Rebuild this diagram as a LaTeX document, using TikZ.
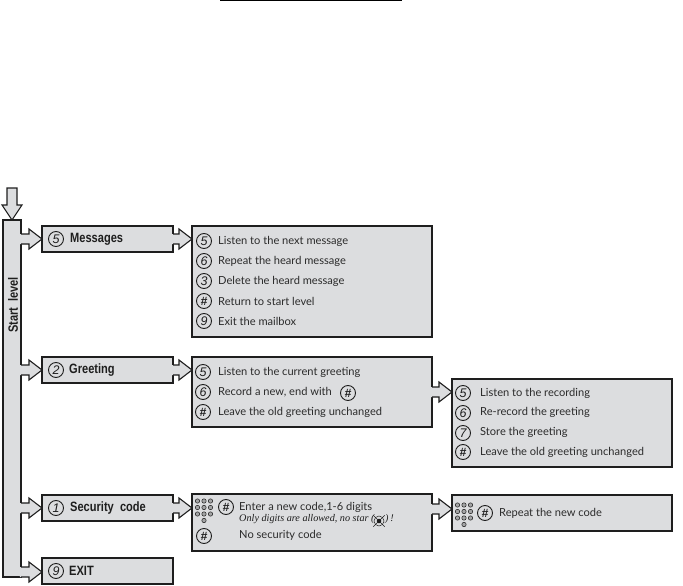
\documentclass[tikz,border=0pt]{standalone}
\usepackage{fontspec}
\setmainfont{Lato}
\newfontfamily\condb[FakeStretch=0.82]{Liberation Sans}[BoldFont={Liberation Sans Bold}]
\newfontfamily\digit{Liberation Sans}
\newfontfamily\noteit{Liberation Serif}
\definecolor{panel}{HTML}{DCDDDF}
\definecolor{ink}{HTML}{1E1E1E}
\definecolor{tx}{HTML}{2B2B2B}
\tikzset{
  panelbox/.style={draw=ink,line width=1.1pt,fill=panel,anchor=north west,inner sep=0pt,outer sep=0pt},
  headbox/.style={panelbox,minimum width=131pt,minimum height=26pt},
  keyn/.style={circle,draw=ink,line width=0.9pt,minimum size=15pt,inner sep=0pt,font=\digit\fontsize{12.5}{12}\selectfont\itshape,text=ink},
  hashn/.style={keyn,font=\digit\fontsize{12}{12}\selectfont\bfseries\itshape},
  head/.style={anchor=west,inner sep=0pt,font=\condb\fontsize{13.5}{13}\selectfont\bfseries,text=ink},
  item/.style={anchor=west,inner sep=0pt,font=\fontsize{11.1}{11}\selectfont,text=tx},
  note/.style={anchor=west,inner sep=0pt,font=\noteit\fontsize{10.2}{10}\selectfont\itshape,text=ink},
  dot/.style={circle,draw=ink,line width=0.5pt,fill=panel!70!ink,minimum size=4.4pt,inner sep=0pt},
}
\newcommand\fatarrow[2]{%
  \fill[panel] ([xshift=-1.2pt,yshift=-5pt]#1) -- ([xshift=-13pt,yshift=-5pt]#2) -- ([xshift=-13pt,yshift=-10pt]#2) -- (#2) -- ([xshift=-13pt,yshift=10pt]#2) -- ([xshift=-13pt,yshift=5pt]#2) -- ([xshift=-1.2pt,yshift=5pt]#1) -- cycle;
  \draw[ink,line width=1.1pt,line join=miter] ([yshift=5pt]#1) -- ([xshift=-13pt,yshift=5pt]#2) -- ([xshift=-13pt,yshift=10pt]#2) -- (#2) -- ([xshift=-13pt,yshift=-10pt]#2) -- ([xshift=-13pt,yshift=-5pt]#2) -- ([yshift=-5pt]#1);
}
\newcommand\keypad[3]{%
  \foreach \r in {0,1,2}{\foreach \c in {-1,0,1}{
    \node[dot] (#1r\r c\c) at (#2+\c*6.5,#3+\r*6.5) {};}}
  \node[dot] (#1zero) at (#2,#3+19.5) {};
}
\begin{document}
\begin{tikzpicture}[x=1pt,y=-1pt]
\useasboundingbox (0,0) rectangle (683,586);
\coordinate (tl) at (220,0.5); \coordinate (tr) at (402,0.5);
\draw[black,line width=1.4pt] (tl) -- (tr);

% start bar
\node[panelbox,minimum width=18pt,minimum height=357pt] (bar) at (3,220) {};
\node[head,rotate=90,anchor=center] (barlabel) at (13,305) {Start\ \ level};
% entry arrow
\coordinate (entry) at (7,188);
\coordinate (entrytip) at (12,220);
\draw[ink,line width=1.1pt,fill=panel,line join=miter] (entry) -- ++(10,0) -- ++(0,17) -- ++(5,0) -- (entrytip) -- ++(-10,-15) -- ++(5,0) -- cycle;

% heads
\node[headbox] (hm) at (42,226) {};
\node[headbox] (hg) at (42,357) {};
\node[headbox] (hs) at (42,495) {};
\node[headbox,line width=1.5pt] (he) at (42,558) {};
% panels
\node[panelbox,minimum width=240pt,minimum height=111pt] (pm) at (192,226) {};
\node[panelbox,minimum width=240pt,minimum height=70pt] (pg) at (192,357) {};
\node[panelbox,minimum width=240pt,minimum height=57pt] (ps) at (192,494) {};
\node[panelbox,minimum width=220pt,minimum height=88pt] (pr) at (452,379) {};
\node[panelbox,minimum width=220pt,minimum height=36pt] (pc) at (452,495) {};

% connectors
\coordinate (bm) at (bar.east |- hm.west); \coordinate (bg) at (bar.east |- hg.west);
\coordinate (bs) at (bar.east |- hs.west); \coordinate (be) at (21,572);
\coordinate (te) at (he.west |- be);
\fatarrow{bm}{hm.west}
\fatarrow{bg}{hg.west}
\fatarrow{bs}{hs.west}
\fatarrow{be}{te}
\coordinate (tm) at (pm.west |- hm.east); \coordinate (tg) at (pg.west |- hg.east); \coordinate (ts) at (ps.west |- hs.east);
\fatarrow{hm.east}{tm}
\fatarrow{hg.east}{tg}
\fatarrow{hs.east}{ts}
\coordinate (tr2) at (pr.west |- pg.east);
\fatarrow{pg.east}{tr2}
\coordinate (tc) at (452,509); \coordinate (sc) at (ps.east |- tc);
\fatarrow{sc}{tc}

% head labels
\node[keyn] (k1) at (56,239) {5}; \node[head] (t1) at (70,239) {Messages};
\node[keyn] (k2) at (56,370) {2}; \node[head] (t2) at (69,370) {Greeting};
\node[keyn] (k3) at (56,508) {1}; \node[head] (t3) at (70,508) {Security\ \ code};
\node[keyn] (k4) at (56,571) {9}; \node[head] (t4) at (69,571) {EXIT};

% messages list
\node[keyn] (a1) at (204,241) {5}; \node[item] (at1) at (218,241) {Listen to the next message};
\node[keyn] (a2) at (204,261) {6}; \node[item] (at2) at (218,261) {Repeat the heard message};
\node[keyn] (a3) at (204,281) {3}; \node[item] (at3) at (218,281) {Delete the heard message};
\node[hashn] (a4) at (204,301) {\#}; \node[item] (at4) at (218,301) {Return to start level};
\node[keyn] (a5) at (204,321) {9}; \node[item] (at5) at (218,321) {Exit the mailbox};

% greeting list
\node[keyn] (b1) at (203,372) {5}; \node[item] (bt1) at (218,372) {Listen to the current greeting};
\node[keyn] (b2) at (203,392) {6}; \node[item] (bt2) at (218,392) {Record a new, end with};
\node[hashn] (b2h) at (348,393) {\#};
\node[hashn] (b3) at (203,412) {\#}; \node[item] (bt3) at (218,412) {Leave the old greeting unchanged};

% recording list
\node[keyn] (c1) at (463,393) {5}; \node[item] (ct1) at (480,393) {Listen to the recording};
\node[keyn] (c2) at (463,413) {6}; \node[item] (ct2) at (480,412) {Re-record the greeting};
\node[keyn] (c3) at (463,433) {7}; \node[item] (ct3) at (480,432) {Store the greeting};
\node[hashn] (c4) at (463,452) {\#}; \node[item] (ct4) at (480,452) {Leave the old greeting unchanged};

% security panel
\keypad{ka}{204}{501}
\node[hashn] (d1) at (226,507) {\#};
\node[item] (dt1) at (239,507) {Enter a new code,1-6 digits};
\node[note] (dt2) at (239,519) {Only digits are allowed, no star (};
\node[circle,draw=ink,line width=0.5pt,minimum size=10pt,inner sep=0pt] (star) at (379,521) {};
\node[circle,fill=ink,minimum size=4.5pt,inner sep=0pt] (starc) at (star.center) {};
\draw[ink,line width=0.6pt] (star.north west) ++(-2,-2) -- ([shift={(2,2)}]star.south east);
\draw[ink,line width=0.6pt] (star.north east) ++(2,-2) -- ([shift={(-2,2)}]star.south west);
\node[note] (dt3) at (385,519) {)\,!};
\node[hashn] (d2) at (204,536) {\#};
\node[item] (dt4) at (239,535) {No security code};

% repeat panel
\keypad{kb}{464}{505}
\node[hashn] (e1) at (485,513) {\#};
\node[item] (et1) at (499,513) {Repeat the new code};
\end{tikzpicture}
\end{document}
